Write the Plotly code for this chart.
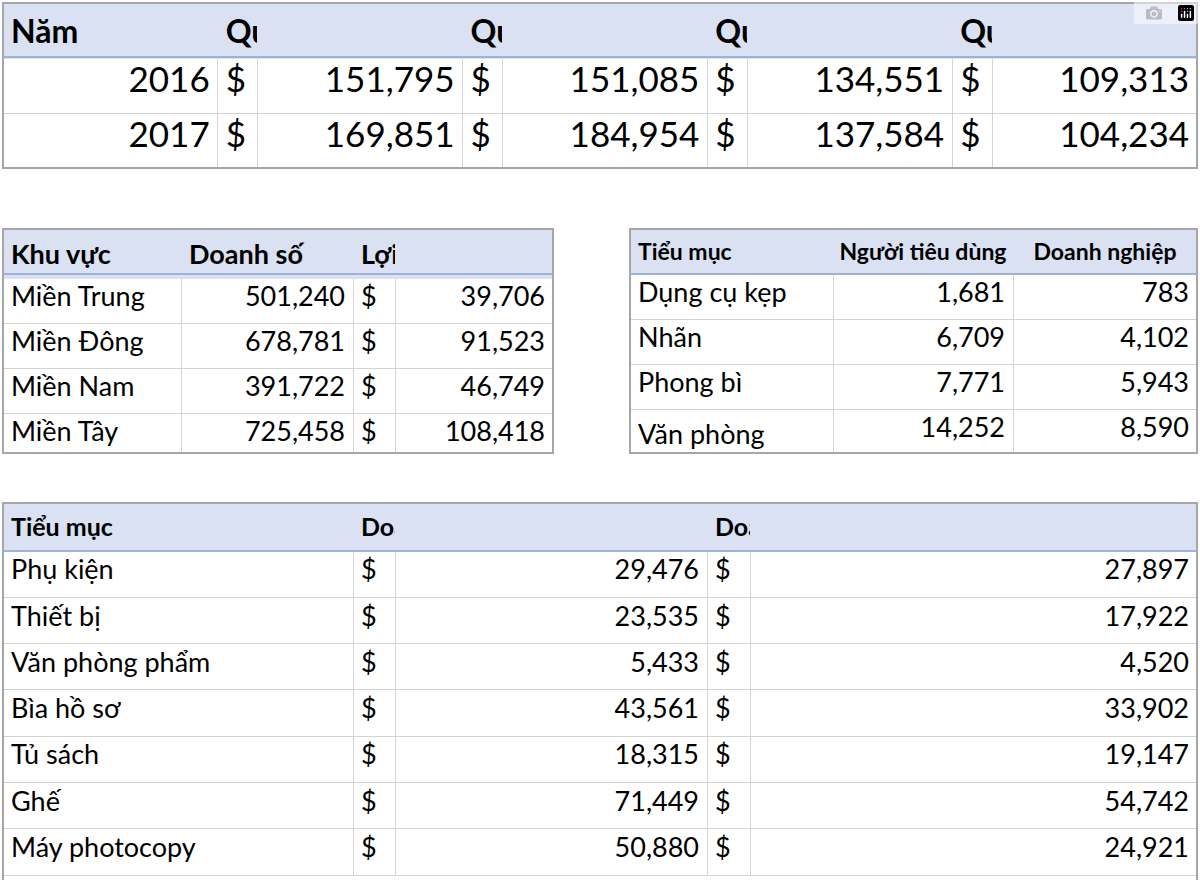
import plotly.graph_objects as go

W, H = 1200, 880
FONT = "Lato"

# Table 1: quarterly sales
years = ["2016", "2017"]
quarters = ["Quý 1", "Quý 2", "Quý 3", "Quý 4"]
q_values = [[151795, 169851], [151085, 184954], [134551, 137584], [109313, 104234]]

# Table 2: regions
regions = ["Miền Trung", "Miền Đông", "Miền Nam", "Miền Tây"]
region_sales = [501240, 678781, 391722, 725458]
region_profit = [39706, 91523, 46749, 108418]

# Table 3: sub-categories by segment
sub_small = ["Dụng cụ kẹp", "Nhãn", "Phong bì", "Văn phòng phẩm"]
consumer = [1681, 6709, 7771, 14252]
corporate = [783, 4102, 5943, 8590]

# Table 4: 2018 vs average
sub_big = ["Phụ kiện", "Thiết bị", "Văn phòng phẩm", "Bìa hồ sơ", "Tủ sách", "Ghế", "Máy photocopy"]
sales_2018 = [29476, 23535, 5433, 43561, 18315, 71449, 50880]
sales_avg = [27897, 17922, 4520, 33902, 19147, 54742, 24921]

HEAD_FILL = "#d9e1f2"
GRID = "#d4d4d4"
OUTER = "#a6a6a6"
HEAD_LINE = "#9fb3d9"


def fmt(v):
    return f"{v:,}"


def hdr(t):
    # bold, no wrapping (non-breaking spaces)
    return "<b>" + t.replace(" ", "\u00a0") + "</b>" if t else ""


def dom(x0, x1, y0, y1):
    return dict(x=[x0 / W, x1 / W], y=[1 - y1 / H, 1 - y0 / H])


def table(cols_header, cols_cells, widths, aligns_h, aligns_c, box, hh, ch, fs_h, fs_c):
    n = len(cols_cells)
    return go.Table(
        domain=dom(*box),
        columnwidth=widths,
        columnorder=list(range(n)),
        header=dict(values=[hdr(t) for t in cols_header], fill_color=HEAD_FILL,
                    line_color=HEAD_FILL, align=aligns_h, height=hh,
                    font=dict(family=FONT, size=fs_h, color="black")),
        cells=dict(values=cols_cells, fill_color="white", line_color=GRID,
                   align=aligns_c, height=ch,
                   font=dict(family=FONT, size=fs_c, color="black")),
    )


fig = go.Figure()

# Table 1
h1 = ["Năm"]
c1 = [years]
w1 = [214]
for q, vals in zip(quarters, q_values):
    h1 += [q, ""]
    c1 += [["$"] * len(vals), [fmt(v) for v in vals]]
    w1 += [40, 204]
fig.add_trace(table(h1, c1, w1, ["left"] * 9,
                    ["right"] + ["left", "right"] * 4,
                    (3, 1197, 3, 168), 54, 55, 32, 35))

# Table 2
fig.add_trace(table(["Khu vực", "Doanh số", "Lợi nhuận", ""],
                    [regions, [fmt(v) for v in region_sales], ["$"] * 4, [fmt(v) for v in region_profit]],
                    [178, 172, 42, 158], ["left"] * 4, ["left", "right", "left", "right"],
                    (3, 553, 229, 454), 45, 45, 27, 27))

# Table 3
fig.add_trace(table(["Tiểu mục", "Người tiêu dùng", "Doanh nghiệp"],
                    [sub_small, [fmt(v) for v in consumer], [fmt(v) for v in corporate]],
                    [203, 180, 184], ["left", "center", "center"], ["left", "right", "right"],
                    (630, 1197, 229, 454), 45, 45, 23, 27))

# Table 4
fig.add_trace(table(["Tiểu mục", "Doanh số năm 2018", "", "Doanh số trung bình năm 2014-2019", ""],
                    [sub_big, ["$"] * 7, [fmt(v) for v in sales_2018], ["$"] * 7, [fmt(v) for v in sales_avg]],
                    [350, 42, 312, 43, 447], ["left"] * 5, ["left", "left", "right", "left", "right"],
                    (3, 1197, 503, 880), 48, 46.3, 25, 27))

shapes = []
for (x0, x1, y0, y1, hb) in [(3, 1197, 3, 168, 57), (3, 553, 229, 453, 274),
                            (630, 1197, 229, 453, 274), (3, 1197, 503, 885, 551)]:
    shapes.append(dict(type="rect", xref="paper", yref="paper", x0=x0 / W, x1=x1 / W,
                       y0=1 - y1 / H, y1=1 - y0 / H, line=dict(color=OUTER, width=2)))
    shapes.append(dict(type="line", xref="paper", yref="paper", x0=x0 / W, x1=x1 / W,
                       y0=1 - hb / H, y1=1 - hb / H, line=dict(color=HEAD_LINE, width=2)))

fig.update_layout(width=W, height=H, margin=dict(l=0, r=0, t=0, b=0),
                  paper_bgcolor="white", shapes=shapes, showlegend=False)

fig.write_html("out.html",
               post_script="document.body.style.margin='0';document.body.style.overflow='hidden';")
